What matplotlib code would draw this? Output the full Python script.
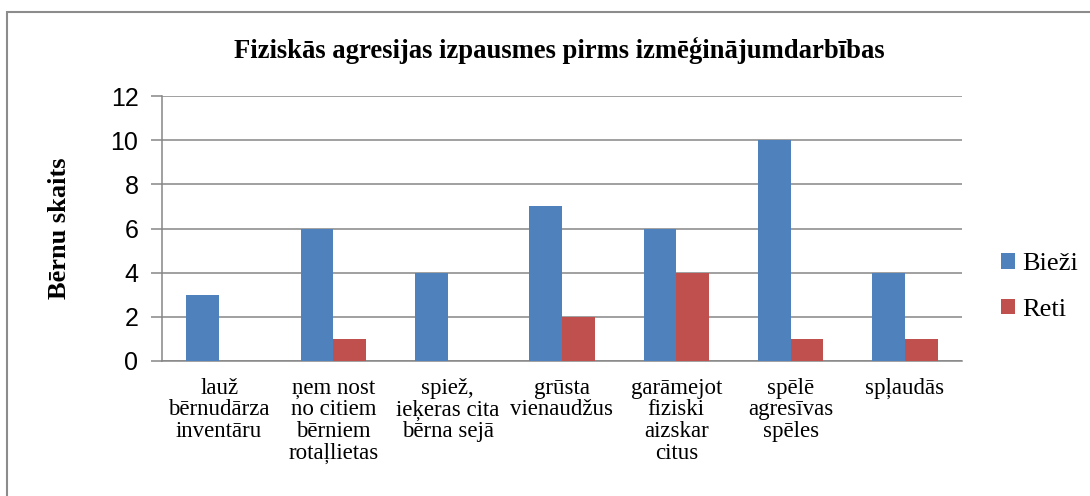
import matplotlib
matplotlib.use("Agg")
import matplotlib.pyplot as plt
import numpy as np
from matplotlib.patches import Rectangle

categories = [
    "lauž\nbērnudārza\ninventāru",
    "ņem nost\nno citiem\nbērniem\nrotaļlietas",
    "spiež,\nieķeras cita\nbērna sejā",
    "grūsta\nvienaudžus",
    "garāmejot\nfiziski\naizskar\ncitus",
    "spēlē\nagresīvas\nspēles",
    "spļaudās",
]
biezi = [3, 6, 4, 7, 6, 10, 4]
reti = [0, 1, 0, 2, 4, 1, 1]

BLUE = "#4F81BD"
RED = "#C0504D"
GRID = "#868686"
SERIF = ["Liberation Serif", "DejaVu Serif"]
SANS = ["Liberation Sans", "DejaVu Sans"]

W, H = 1090, 496
fig = plt.figure(figsize=(W / 100, H / 100), dpi=100)
ax = fig.add_axes([162 / W, 1 - 361 / H, 800 / W, 265 / H])

x = np.arange(len(categories))
w = 0.286
ax.bar(x - w / 2, biezi, w, color=BLUE, label="Bieži", zorder=3)
ax.bar(x + w / 2, reti, w, color=RED, label="Reti", zorder=3)

ax.set_xlim(-0.5, len(categories) - 0.5)
ax.set_ylim(0, 12)
ax.set_yticks(range(0, 13, 2))
ax.yaxis.grid(True, color=GRID, linewidth=1.1, zorder=0)
ax.set_axisbelow(True)

for s in ["top", "right"]:
    ax.spines[s].set_visible(False)
for s in ["left", "bottom"]:
    ax.spines[s].set_color(GRID)
    ax.spines[s].set_linewidth(1.1)

ax.tick_params(axis="y", length=8, color=GRID, width=1.1, labelsize=18, pad=9)
ax.tick_params(axis="x", length=0, pad=12)
for t in ax.get_yticklabels():
    t.set_family(SANS)

ax.set_xticks(x)
ax.set_xticklabels(categories, family=SERIF, fontsize=16.5, linespacing=1.05, va="top")

ax.set_ylabel("Bērnu skaits", family=SERIF, fontsize=19, fontweight="bold")
ax.yaxis.set_label_coords(-0.114, 0.5)

fig.text(0.513, 1 - 50 / H, "Fiziskās agresijas izpausmes pirms izmēģinājumdarbības",
         family=SERIF, fontsize=19.2, fontweight="bold", ha="center", va="center")

fig.legend(loc="center left", bbox_to_anchor=(1001 / W, 1 - 287 / H), frameon=False,
           prop={"family": SERIF, "size": 19}, handlelength=0.53,
           handleheight=0.53, handletextpad=0.27, labelspacing=0.9,
           borderpad=0, borderaxespad=0)

# outer chart border (top and left edges visible)
fig.patches.append(Rectangle((7 / W, -0.1), 1.2, 1.1 - 12 / H,
                             transform=fig.transFigure, fill=False,
                             edgecolor="#8c8c8c", linewidth=1.5))

fig.savefig("out.png", dpi=100)
